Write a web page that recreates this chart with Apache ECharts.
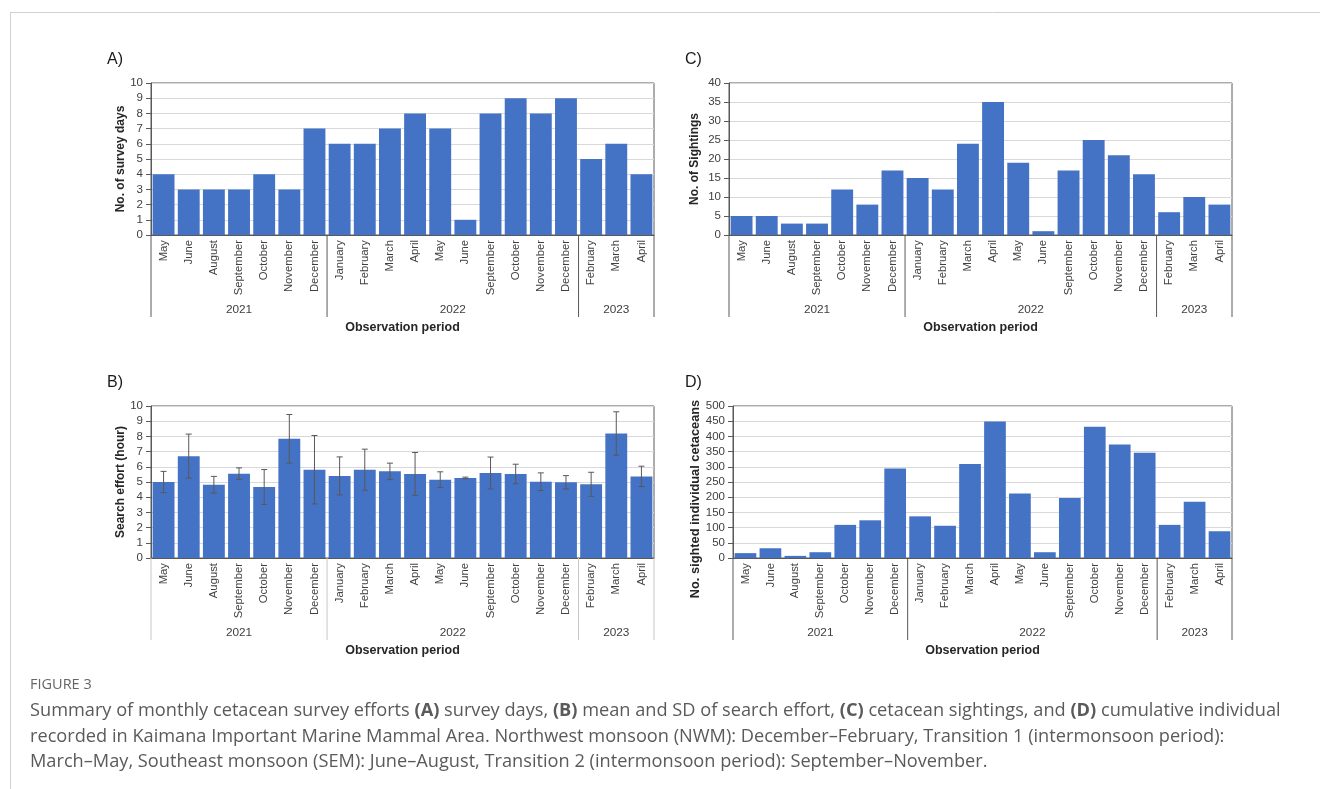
<!DOCTYPE html>
<html><head><meta charset="utf-8">
<script src="https://cdn.jsdelivr.net/npm/echarts@6/dist/echarts.min.js"></script>
<style>html,body{margin:0;padding:0;background:#fff}#c{width:1320px;height:789px}</style>
</head><body><div id="c"></div><script>
// ---- data ----
const months = ['May','June','August','September','October','November','December',
  'January','February','March','April','May','June','September','October','November','December',
  'February','March','April'];
const yearLabels = ['2021','2022','2023'];
const yearStart = [0, 7, 17];
const yearEnd = [6, 16, 19];
const surveyDays = [4,3,3,3,4,3,7, 6,6,7,8,7,1,8,9,8,9, 5,6,4];
const effortMean = [5.0,6.7,4.82,5.55,4.67,7.84,5.81, 5.4,5.81,5.7,5.53,5.15,5.27,5.59,5.53,5.02,4.98, 4.85,8.19,5.37];
const effortSD = [0.7,1.45,0.55,0.38,1.15,1.6,2.25, 1.25,1.35,0.54,1.41,0.52,0.05,1.05,0.64,0.58,0.44, 0.79,1.43,0.67];
const sightings = [5,5,3,3,12,8,17, 15,12,24,35,19,1,17,25,21,16, 6,10,8];
const individuals = [16,32,7,19,109,124,294, 137,106,309,449,212,19,197,432,373,346, 109,185,88];

// ---- styling ----
const BLUE = '#4472C4';
const DARK = '#595959';
const TXT = '#404040';
const FONT = 'Liberation Sans, Arial, sans-serif';

const panels = [
  {label:'A)', grid:{left:151, top:83, width:503, height:152}, max:10, interval:1, name:'No. of survey days', data:surveyDays, sepColor:DARK, lx:107, ly:52, gap:24, nfs:12, npad:0},
  {label:'B)', grid:{left:151, top:406, width:503, height:152}, max:10, interval:1, name:'Search effort (hour)', data:effortMean, sepColor:'#c8c8c8', err:true, lx:107, ly:375, gap:24, nfs:12, npad:0},
  {label:'C)', grid:{left:729, top:83, width:503, height:152}, max:40, interval:5, name:'No. of Sightings', data:sightings, sepColor:DARK, lx:685, ly:52, gap:28, nfs:12, npad:0},
  {label:'D)', grid:{left:733, top:406, width:499, height:152}, max:500, interval:50, name:'No. sighted individual cetaceans', data:individuals, sepColor:DARK, lx:685, ly:375, gap:30, nfs:12.8, npad:34}
];

const grid = [], xAxis = [], yAxis = [], series = [], graphic = [];
panels.forEach((p, i) => {
  grid.push(Object.assign({show:true, borderColor:DARK, borderWidth:1, backgroundColor:'transparent'}, p.grid));
  xAxis.push({
    type:'category', gridIndex:i, data:months, boundaryGap:true,
    axisLine:{show:true, lineStyle:{color:DARK, width:1}},
    axisTick:{show:false},
    axisLabel:{interval:0, rotate:90, fontSize:11.3, color:TXT, fontFamily:FONT, margin:5},
    name:'Observation period', nameLocation:'middle', nameGap:86,
    nameTextStyle:{fontSize:12.5, fontWeight:'bold', color:'#262626', fontFamily:FONT}
  });
  yAxis.push({
    type:'value', gridIndex:i, min:0, max:p.max, interval:p.interval,
    axisLine:{show:true, lineStyle:{color:DARK, width:1}},
    axisTick:{show:true, length:5, lineStyle:{color:DARK}},
    axisLabel:{fontSize:11.5, color:TXT, fontFamily:FONT, margin:8},
    splitLine:{show:true, lineStyle:{color:'#d9d9d9', width:1}},
    name:p.name, nameLocation:'middle', nameGap:p.gap, nameRotate:90,
    nameTextStyle:{fontSize:p.nfs, fontWeight:'bold', color:'#262626', fontFamily:FONT, padding:[0, p.npad, 0, 0]}
  });
  series.push({
    type:'bar', xAxisIndex:i, yAxisIndex:i, data:p.data, barCategoryGap:'13%',
    itemStyle:{color:BLUE}, animation:false
  });
  if (p.err) {
    series.push({
      type:'custom', xAxisIndex:i, yAxisIndex:i, animation:false, z:5,
      data: effortMean.map((m, k) => [k, m - effortSD[k], m + effortSD[k]]),
      encode:{x:0, y:[1,2]},
      renderItem: function(params, api) {
        const lo = api.coord([api.value(0), api.value(1)]);
        const hi = api.coord([api.value(0), api.value(2)]);
        const w = 3;
        const st = {stroke:'#595959', lineWidth:1};
        return {type:'group', children:[
          {type:'line', shape:{x1:lo[0], y1:lo[1], x2:hi[0], y2:hi[1]}, style:st},
          {type:'line', shape:{x1:lo[0]-w, y1:lo[1], x2:lo[0]+w, y2:lo[1]}, style:st},
          {type:'line', shape:{x1:hi[0]-w, y1:hi[1], x2:hi[0]+w, y2:hi[1]}, style:st}
        ]};
      }
    });
  }
  // year grouping (multi-level category axis)
  series.push({
    type:'custom', xAxisIndex:i, yAxisIndex:i, animation:false, clip:false, silent:true,
    data: yearLabels.map((y, k) => [yearStart[k], 0, yearEnd[k]]),
    encode:{x:0, y:1},
    renderItem: (function(sepColor){ return function(params, api) {
      const k = params.dataIndex;
      const band = api.size([1, 0])[0];
      const a = api.coord([yearStart[k], 0]);
      const b = api.coord([yearEnd[k], 0]);
      const x0 = a[0] - band / 2, x1 = b[0] + band / 2, y0 = a[1];
      const st = {stroke:sepColor, lineWidth:1};
      const ch = [
        {type:'line', shape:{x1:x0, y1:y0, x2:x0, y2:y0 + 82}, style:st},
        {type:'text', x:(x0 + x1) / 2, y:y0 + 74.5, style:{text:yearLabels[k], fontSize:11.8, fill:TXT, fontFamily:FONT, align:'center', verticalAlign:'middle'}}
      ];
      if (k === yearLabels.length - 1) ch.push({type:'line', shape:{x1:x1, y1:y0, x2:x1, y2:y0 + 82}, style:st});
      return {type:'group', children:ch};
    }; })(p.sepColor)
  });
  graphic.push({type:'text', left:p.lx, top:p.ly, style:{text:p.label, fontSize:16, fill:'#1a1a1a', fontFamily:FONT}});
});

// frame and caption
graphic.push({type:'line', shape:{x1:10, y1:12.5, x2:1320, y2:12.5}, style:{stroke:'#d0d0d0', lineWidth:1}});
graphic.push({type:'line', shape:{x1:10.5, y1:12, x2:10.5, y2:789}, style:{stroke:'#d0d0d0', lineWidth:1}});
const CAP = '"Open Sans", "Noto Sans", sans-serif';
const capFill = '#5a5a5a';
graphic.push({type:'text', left:30, top:677, style:{text:'FIGURE 3', fontSize:14.5, fill:'#666', fontFamily:CAP}});
const CFS = 18.2;
const rich = {b:{fontWeight:'bold', fontSize:CFS, fontFamily:CAP, fill:capFill}};
const capLines = [
  'Summary of monthly cetacean survey efforts {b|(A)} survey days, {b|(B)} mean and SD of search effort, {b|(C)} cetacean sightings, and {b|(D)} cumulative individual',
  'recorded in Kaimana Important Marine Mammal Area. Northwest monsoon (NWM): December\u2013February, Transition 1 (intermonsoon period):',
  'March\u2013May, Southeast monsoon (SEM): June\u2013August, Transition 2 (intermonsoon period): September\u2013November.'
];
capLines.forEach((t, k) => {
  graphic.push({type:'text', left:30, top:702 + k * 25.5, style:{text:t, rich:rich, fontSize:CFS, fill:capFill, fontFamily:CAP}});
});

const chart = echarts.init(document.getElementById('c'), null, {renderer:'canvas'});
chart.setOption({animation:false, backgroundColor:'#fff', grid, xAxis, yAxis, series, graphic});
</script></body></html>
